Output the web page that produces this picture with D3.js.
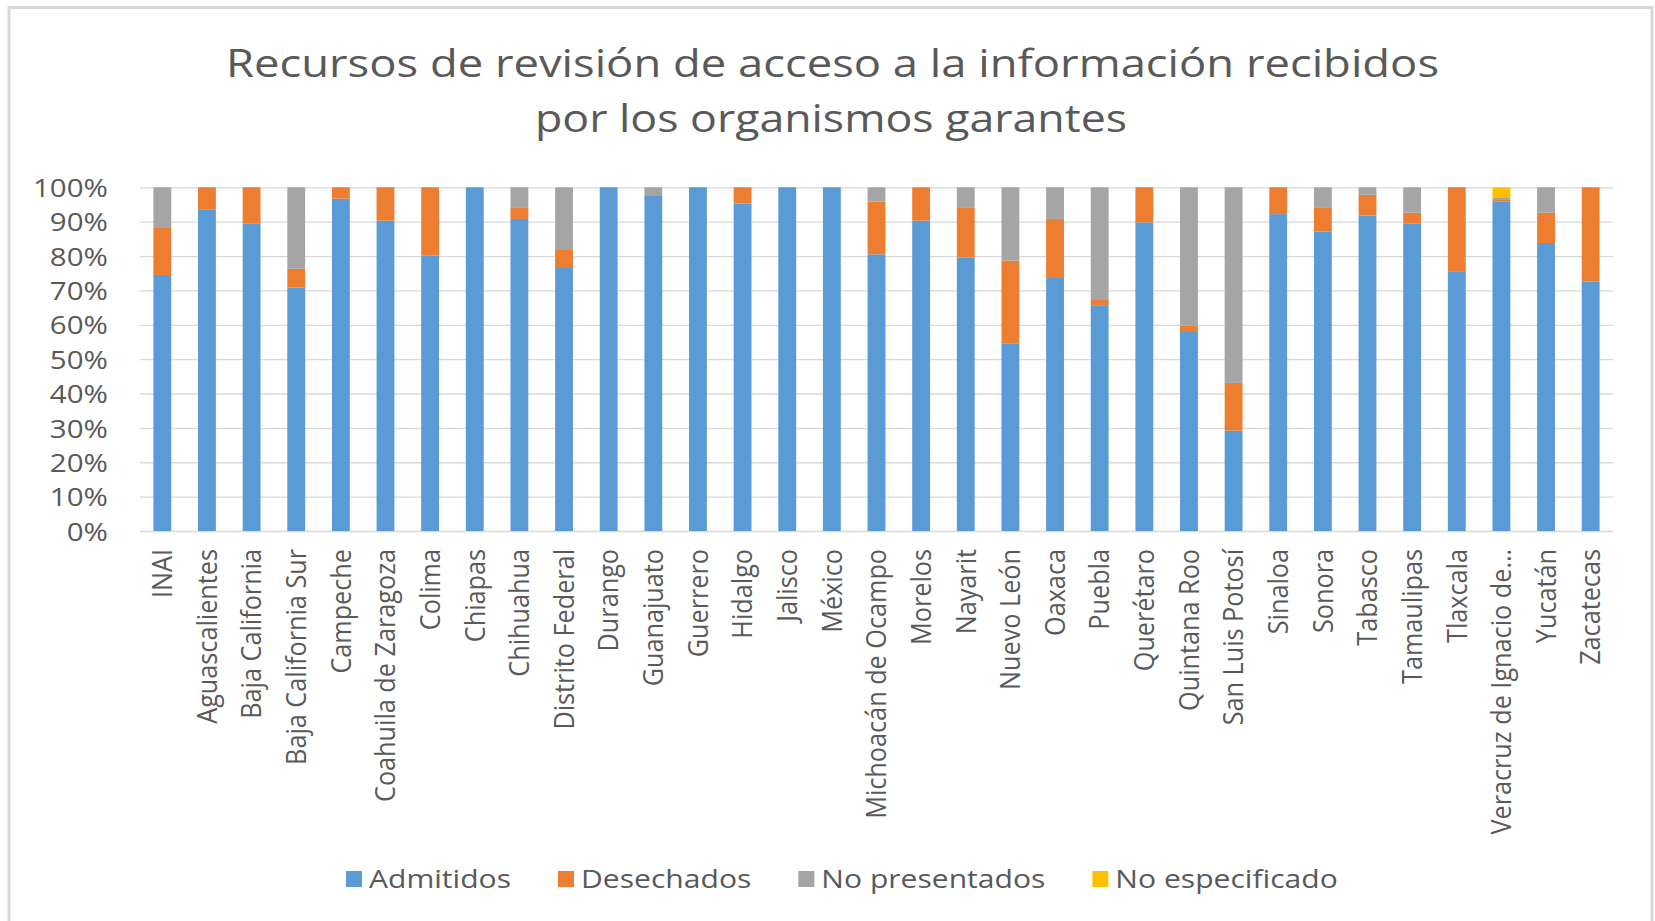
<!DOCTYPE html>
<html>
<head>
<meta charset="utf-8">
<script src="https://cdn.jsdelivr.net/npm/d3@7"></script>
<style>
  html, body { margin: 0; padding: 0; background: #fff; }
  svg { display: block; }
  text { font-family: "Open Sans", sans-serif; fill: #595959; }
</style>
</head>
<body>
<svg id="chart" width="1655" height="921"></svg>
<script>
const categories = ["INAI","Aguascalientes","Baja California","Baja California Sur","Campeche","Coahuila de Zaragoza","Colima","Chiapas","Chihuahua","Distrito Federal","Durango","Guanajuato","Guerrero","Hidalgo","Jalisco","México","Michoacán de Ocampo","Morelos","Nayarit","Nuevo León","Oaxaca","Puebla","Querétaro","Quintana Roo","San Luis Potosí","Sinaloa","Sonora","Tabasco","Tamaulipas","Tlaxcala","Veracruz de Ignacio de…","Yucatán","Zacatecas"];
const admitidos      = [74.5,93.6,89.4,70.8,96.7,90.3,80.1,100,90.8,76.8,100,97.7,100,95.3,100,100,80.5,90.3,79.6,54.6,73.6,65.7,89.8,57.9,29.2,92.2,87.1,91.8,89.4,75.6,95.8,83.8,72.6];
const desechados     = [13.9,6.4,10.6,5.5,3.3,9.7,19.9,0,3.2,5.2,0,0,0,4.7,0,0,15.3,9.7,14.4,24.1,17.2,1.5,10.2,1.8,13.9,7.8,6.9,6.0,3.2,24.4,0.5,8.8,27.4];
const noPresentados  = [11.6,0,0,23.7,0,0,0,0,6.0,18.0,0,2.3,0,0,0,0,4.2,0,6.0,21.3,9.2,32.8,0,40.3,56.9,0,6.0,2.2,7.4,0,0.6,7.4,0];
const noEspecificado = [0,0,0,0,0,0,0,0,0,0,0,0,0,0,0,0,0,0,0,0,0,0,0,0,0,0,0,0,0,0,3.1,0,0];
const seriesNames = ["Admitidos","Desechados","No presentados","No especificado"];
const seriesColors = ["#5b9bd5","#ed7d31","#a5a5a5","#ffc000"];
const yTicks = [0,10,20,30,40,50,60,70,80,90,100];
const titleLines = ["Recursos de revisión de acceso a la información recibidos","por los organismos garantes"];

const svg = d3.select("#chart");

// frame
svg.append("rect").attr("x",9).attr("y",7.5).attr("width",1643).attr("height",960)
  .attr("fill","none").attr("stroke","#d9d9d9").attr("stroke-width",3);

function fitWidth(node, target) {
  node.setAttribute("textLength", target);
  node.setAttribute("lengthAdjust", "spacingAndGlyphs");
}

// title
const titleMeta = [{x0:226,x1:1439,base:77},{x0:535,x1:1127,base:132}];
titleLines.forEach((t,i) => {
  const m = titleMeta[i];
  const el = svg.append("text").attr("x",(m.x0+m.x1)/2).attr("y",m.base)
    .attr("text-anchor","middle").style("font-size","37.4px").text(t);
  fitWidth(el.node(), m.x1-m.x0);
});

const plotL = 140, plotR = 1613, plotT = 187.3, plotB = 531;
const x = d3.scaleBand().domain(categories).range([plotL,plotR]).paddingInner(0.6).paddingOuter(0.3);
const y = d3.scaleLinear().domain([0,100]).range([plotB,plotT]);

// gridlines + y labels
const yAxis = svg.append("g").attr("transform",`translate(${plotL},0)`)
  .call(d3.axisLeft(y).tickValues(yTicks).tickFormat(d => d + "%").tickSize(-(plotR-plotL)).tickPadding(32));
yAxis.select(".domain").remove();
yAxis.selectAll(".tick line").attr("stroke","#d9d9d9").attr("stroke-width",1.3);
yAxis.selectAll(".tick text").style("font-size","25.6px").attr("fill","#595959").attr("dy","0.36em")
  .attr("font-family",null);
let yFactor = 1;
yAxis.selectAll(".tick text").each(function(d){ if (d===100) { yFactor = 75 / this.getComputedTextLength(); } });
yAxis.selectAll(".tick text").each(function(){ fitWidth(this, this.getComputedTextLength()*yFactor); });

// stacked data
const rows = categories.map((c,i) => ({cat:c, "Admitidos":admitidos[i], "Desechados":desechados[i], "No presentados":noPresentados[i], "No especificado":noEspecificado[i]}));
const stacked = d3.stack().keys(seriesNames)(rows);
const color = d3.scaleOrdinal().domain(seriesNames).range(seriesColors);

svg.append("g").selectAll("g").data(stacked).join("g").attr("fill", d => color(d.key))
  .selectAll("rect").data(d => d).join("rect")
  .attr("x", d => x(d.data.cat)).attr("width", x.bandwidth())
  .attr("y", d => y(d[1])).attr("height", d => Math.max(0, y(d[0]) - y(d[1])));

// x labels
const xAxis = svg.append("g").attr("transform",`translate(0,${plotB})`)
  .call(d3.axisBottom(x).tickSize(0).tickPadding(0));
xAxis.select(".domain").remove();
xAxis.attr("font-family",null).attr("font-size",null);
yAxis.attr("font-family",null).attr("font-size",null);
const labelFont = 25.6;
xAxis.selectAll(".tick text").style("font-size", labelFont + "px").attr("fill","#595959")
  .attr("text-anchor","end").attr("y",0).attr("dy",0);
let lenFactor = 1;
xAxis.selectAll(".tick text").each(function(d){ if (d === "Coahuila de Zaragoza") lenFactor = 253 / this.getComputedTextLength(); });
const capTarget = 19.5, capNatural = 0.714 * labelFont;
const sy = capTarget / capNatural;
xAxis.selectAll(".tick text").each(function(){
  fitWidth(this, this.getComputedTextLength()*lenFactor);
  d3.select(this).attr("transform", `translate(${capTarget/2},18) rotate(-90) scale(1,${sy})`);
});

// legend
const legend = svg.append("g");
let lx = 346; const ly = 871, sq = 16;
let legFactor = null;
seriesNames.forEach((name,i) => {
  legend.append("rect").attr("x",lx).attr("y",ly).attr("width",sq).attr("height",sq).attr("fill",seriesColors[i]);
  const t = legend.append("text").attr("x",lx+sq+7).attr("y",ly+sq/2).attr("dy","0.36em")
    .style("font-size","25.6px").text(name);
  const node = t.node();
  if (legFactor === null) legFactor = 142 / node.getComputedTextLength();
  const w = node.getComputedTextLength()*legFactor;
  fitWidth(node, w);
  lx += sq + 7 + w + 47;
});
</script>
</body>
</html>
